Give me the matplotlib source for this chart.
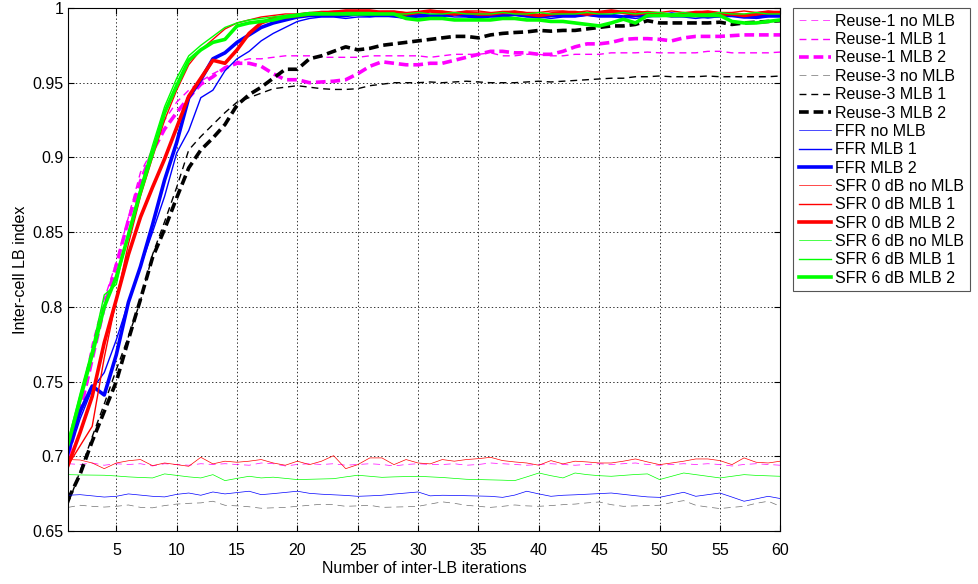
import matplotlib
matplotlib.use("Agg")
import matplotlib.pyplot as plt
import numpy as np

plt.rcParams['font.family'] = ['Liberation Sans', 'DejaVu Sans']
plt.rcParams['lines.scale_dashes'] = False

iters = np.arange(1, 61)

# ---- Reuse-1 ----
reuse1_nomlb = [0.695, 0.6945, 0.6955, 0.694, 0.695, 0.6945, 0.695, 0.6935, 0.695, 0.6945,
                0.694, 0.695, 0.6945, 0.695, 0.6945, 0.694, 0.6955, 0.695, 0.6935, 0.6945,
                0.695, 0.6945, 0.695, 0.694, 0.6945, 0.695, 0.6945, 0.6935, 0.6945, 0.695,
                0.6945, 0.6945, 0.695, 0.694, 0.6945, 0.6955, 0.695, 0.6945, 0.694, 0.6945,
                0.695, 0.6945, 0.694, 0.6945, 0.695, 0.6945, 0.695, 0.6955, 0.6945, 0.694,
                0.6945, 0.695, 0.6945, 0.695, 0.6945, 0.6935, 0.6945, 0.695, 0.6945, 0.694]
reuse1_mlb1 = [0.695, 0.735, 0.775, 0.805, 0.830, 0.860, 0.890, 0.905, 0.925, 0.937,
               0.945, 0.951, 0.956, 0.960, 0.964, 0.966, 0.966, 0.967, 0.968, 0.968,
               0.968, 0.967, 0.967, 0.967, 0.967, 0.968, 0.968, 0.968, 0.968, 0.968,
               0.967, 0.968, 0.969, 0.969, 0.969, 0.970, 0.968, 0.968, 0.969, 0.969,
               0.968, 0.968, 0.969, 0.969, 0.969, 0.970, 0.970, 0.970, 0.9705, 0.970,
               0.970, 0.970, 0.970, 0.971, 0.971, 0.970, 0.970, 0.970, 0.970, 0.9705]
reuse1_mlb2 = [0.700, 0.730, 0.765, 0.800, 0.828, 0.858, 0.884, 0.904, 0.919, 0.930,
               0.940, 0.949, 0.954, 0.960, 0.963, 0.963, 0.961, 0.956, 0.952, 0.952,
               0.950, 0.9505, 0.951, 0.952, 0.956, 0.961, 0.964, 0.963, 0.962, 0.962,
               0.963, 0.963, 0.965, 0.967, 0.969, 0.971, 0.971, 0.970, 0.970, 0.969,
               0.969, 0.971, 0.974, 0.976, 0.976, 0.977, 0.979, 0.9795, 0.9795, 0.979,
               0.978, 0.980, 0.981, 0.981, 0.981, 0.9815, 0.982, 0.982, 0.982, 0.982]

# ---- Reuse-3 ----
reuse3_nomlb = [0.6658, 0.6672, 0.6665, 0.6660, 0.6665, 0.6674, 0.6658, 0.6655, 0.6670, 0.6680,
                0.6685, 0.6688, 0.6699, 0.6672, 0.6668, 0.6662, 0.6652, 0.6655, 0.6658, 0.6665,
                0.6672, 0.6679, 0.6676, 0.6665, 0.6668, 0.6672, 0.6658, 0.6660, 0.6662, 0.6665,
                0.6680, 0.6695, 0.6685, 0.6672, 0.6665, 0.6658, 0.6665, 0.6674, 0.6668, 0.6665,
                0.6670, 0.6676, 0.6680, 0.6688, 0.6694, 0.6676, 0.6665, 0.6668, 0.6670, 0.6672,
                0.6690, 0.6703, 0.6672, 0.6660, 0.6650, 0.6658, 0.6665, 0.6685, 0.6699, 0.6665]
reuse3_mlb1 = [0.668, 0.690, 0.713, 0.735, 0.758, 0.780, 0.804, 0.835, 0.857, 0.880,
               0.905, 0.914, 0.922, 0.930, 0.937, 0.940, 0.943, 0.946, 0.947, 0.948,
               0.947, 0.946, 0.9455, 0.9455, 0.946, 0.948, 0.949, 0.950, 0.950, 0.950,
               0.9505, 0.950, 0.9505, 0.951, 0.9505, 0.950, 0.950, 0.950, 0.9505, 0.951,
               0.9505, 0.951, 0.9515, 0.952, 0.9525, 0.953, 0.953, 0.954, 0.954, 0.9545,
               0.954, 0.954, 0.954, 0.9545, 0.954, 0.954, 0.954, 0.954, 0.954, 0.9545]
reuse3_mlb2 = [0.671, 0.688, 0.710, 0.730, 0.750, 0.778, 0.805, 0.833, 0.852, 0.873,
               0.893, 0.905, 0.913, 0.922, 0.935, 0.942, 0.947, 0.953, 0.959, 0.959,
               0.966, 0.968, 0.971, 0.974, 0.972, 0.973, 0.975, 0.976, 0.977, 0.978,
               0.979, 0.980, 0.981, 0.981, 0.980, 0.982, 0.983, 0.9836, 0.984, 0.985,
               0.9845, 0.985, 0.985, 0.986, 0.987, 0.988, 0.988, 0.989, 0.9915, 0.990,
               0.990, 0.990, 0.990, 0.990, 0.9905, 0.989, 0.990, 0.9905, 0.991, 0.9915]

# ---- FFR ----
ffr_nomlb = [0.6739, 0.6743, 0.6735, 0.6727, 0.6732, 0.6748, 0.6740, 0.6732, 0.6728, 0.6745,
             0.6754, 0.6739, 0.6761, 0.6748, 0.6757, 0.6766, 0.6743, 0.6750, 0.6758, 0.6766,
             0.6752, 0.6746, 0.6742, 0.6738, 0.6732, 0.6735, 0.6739, 0.6747, 0.6754, 0.6761,
             0.6735, 0.6739, 0.6738, 0.6736, 0.6734, 0.6732, 0.6725, 0.6740, 0.6766, 0.6748,
             0.6732, 0.6739, 0.6742, 0.6746, 0.6750, 0.6754, 0.6745, 0.6736, 0.6728, 0.6725,
             0.6742, 0.6759, 0.6732, 0.6743, 0.6754, 0.6727, 0.6699, 0.6715, 0.6732, 0.6717]
ffr_mlb1 = [0.700, 0.725, 0.745, 0.756, 0.778, 0.803, 0.827, 0.850, 0.874, 0.903,
            0.918, 0.940, 0.945, 0.958, 0.966, 0.971, 0.978, 0.983, 0.987, 0.991,
            0.993, 0.994, 0.994, 0.993, 0.994, 0.994, 0.995, 0.994, 0.993, 0.994,
            0.994, 0.995, 0.994, 0.994, 0.993, 0.994, 0.994, 0.995, 0.994, 0.994,
            0.993, 0.994, 0.994, 0.995, 0.994, 0.994, 0.994, 0.993, 0.994, 0.995,
            0.994, 0.994, 0.993, 0.994, 0.994, 0.995, 0.994, 0.993, 0.994, 0.994]
ffr_mlb2 = [0.704, 0.730, 0.747, 0.741, 0.768, 0.803, 0.827, 0.855, 0.885, 0.910,
            0.940, 0.952, 0.966, 0.970, 0.977, 0.982, 0.987, 0.990, 0.992, 0.994,
            0.995, 0.995, 0.995, 0.995, 0.996, 0.995, 0.995, 0.995, 0.994, 0.995,
            0.995, 0.995, 0.996, 0.995, 0.994, 0.995, 0.995, 0.996, 0.995, 0.994,
            0.995, 0.995, 0.995, 0.996, 0.995, 0.995, 0.994, 0.995, 0.995, 0.995,
            0.996, 0.995, 0.995, 0.994, 0.995, 0.995, 0.994, 0.994, 0.995, 0.995]

# ---- SFR 0 dB ----
sfr0_nomlb = [0.6978, 0.6975, 0.6955, 0.6917, 0.6955, 0.6970, 0.6978, 0.6937, 0.6955, 0.6944,
              0.6933, 0.6993, 0.6949, 0.6967, 0.6960, 0.6967, 0.6978, 0.6955, 0.6940, 0.6967,
              0.6944, 0.6967, 0.7004, 0.6917, 0.6944, 0.6989, 0.6989, 0.6944, 0.6978, 0.6955,
              0.6949, 0.6978, 0.6967, 0.6978, 0.6984, 0.6993, 0.6971, 0.6962, 0.6955, 0.6940,
              0.6971, 0.6949, 0.6967, 0.6962, 0.6955, 0.6955, 0.6967, 0.6982, 0.6962, 0.6944,
              0.6955, 0.6967, 0.6982, 0.6982, 0.6971, 0.6944, 0.6989, 0.6960, 0.6955, 0.6967]
sfr0_mlb1 = [0.694, 0.707, 0.720, 0.766, 0.805, 0.842, 0.874, 0.900, 0.925, 0.945,
             0.962, 0.972, 0.979, 0.986, 0.990, 0.992, 0.994, 0.995, 0.996, 0.996,
             0.997, 0.997, 0.998, 0.998, 0.997, 0.997, 0.998, 0.998, 0.997, 0.997,
             0.998, 0.998, 0.997, 0.998, 0.998, 0.997, 0.997, 0.998, 0.997, 0.997,
             0.998, 0.998, 0.997, 0.998, 0.997, 0.997, 0.998, 0.998, 0.997, 0.997,
             0.998, 0.997, 0.997, 0.998, 0.997, 0.997, 0.998, 0.997, 0.998, 0.997]
sfr0_mlb2 = [0.694, 0.716, 0.740, 0.776, 0.805, 0.835, 0.860, 0.880, 0.899, 0.920,
             0.941, 0.953, 0.965, 0.963, 0.972, 0.983, 0.990, 0.993, 0.994, 0.995,
             0.996, 0.997, 0.997, 0.998, 0.998, 0.998, 0.997, 0.997, 0.996, 0.997,
             0.998, 0.997, 0.996, 0.997, 0.996, 0.996, 0.997, 0.997, 0.996, 0.995,
             0.996, 0.997, 0.997, 0.996, 0.997, 0.998, 0.997, 0.996, 0.997, 0.996,
             0.995, 0.996, 0.997, 0.997, 0.996, 0.996, 0.995, 0.996, 0.997, 0.997]

# ---- SFR 6 dB ----
sfr6_nomlb = [0.6877, 0.6875, 0.6874, 0.6873, 0.6868, 0.6862, 0.6858, 0.6855, 0.6882, 0.6872,
              0.6862, 0.6855, 0.6877, 0.6837, 0.6852, 0.6866, 0.6855, 0.6860, 0.6852, 0.6844,
              0.6846, 0.6848, 0.6850, 0.6862, 0.6873, 0.6866, 0.6859, 0.6862, 0.6864, 0.6866,
              0.6862, 0.6858, 0.6852, 0.6846, 0.6844, 0.6842, 0.6840, 0.6837, 0.6862, 0.6888,
              0.6870, 0.6855, 0.6888, 0.6877, 0.6870, 0.6866, 0.6872, 0.6878, 0.6882, 0.6844,
              0.6866, 0.6888, 0.6877, 0.6866, 0.6855, 0.6866, 0.6877, 0.6872, 0.6869, 0.6866]
sfr6_mlb1 = [0.710, 0.742, 0.772, 0.808, 0.815, 0.850, 0.880, 0.908, 0.934, 0.953,
             0.968, 0.975, 0.981, 0.987, 0.990, 0.992, 0.993, 0.994, 0.995, 0.996,
             0.997, 0.997, 0.996, 0.997, 0.997, 0.997, 0.996, 0.996, 0.996, 0.997,
             0.996, 0.996, 0.997, 0.996, 0.996, 0.996, 0.997, 0.996, 0.996, 0.997,
             0.996, 0.996, 0.996, 0.997, 0.996, 0.996, 0.997, 0.996, 0.997, 0.997,
             0.996, 0.997, 0.996, 0.996, 0.997, 0.996, 0.996, 0.997, 0.996, 0.996]
sfr6_mlb2 = [0.708, 0.738, 0.768, 0.800, 0.820, 0.848, 0.877, 0.903, 0.930, 0.948,
             0.965, 0.972, 0.977, 0.979, 0.988, 0.990, 0.991, 0.992, 0.994, 0.995,
             0.996, 0.996, 0.996, 0.996, 0.996, 0.996, 0.996, 0.996, 0.993, 0.992,
             0.993, 0.993, 0.992, 0.992, 0.992, 0.992, 0.993, 0.993, 0.992, 0.992,
             0.991, 0.991, 0.990, 0.989, 0.988, 0.990, 0.9925, 0.990, 0.995, 0.995,
             0.995, 0.995, 0.995, 0.995, 0.995, 0.991, 0.990, 0.990, 0.991, 0.992]

labels = ["Reuse-1 no MLB", "Reuse-1 MLB 1", "Reuse-1 MLB 2",
          "Reuse-3 no MLB", "Reuse-3 MLB 1", "Reuse-3 MLB 2",
          "FFR no MLB", "FFR MLB 1", "FFR MLB 2",
          "SFR 0 dB no MLB", "SFR 0 dB MLB 1", "SFR 0 dB MLB 2",
          "SFR 6 dB no MLB", "SFR 6 dB MLB 1", "SFR 6 dB MLB 2"]
series = [reuse1_nomlb, reuse1_mlb1, reuse1_mlb2,
          reuse3_nomlb, reuse3_mlb1, reuse3_mlb2,
          ffr_nomlb, ffr_mlb1, ffr_mlb2,
          sfr0_nomlb, sfr0_mlb1, sfr0_mlb2,
          sfr6_nomlb, sfr6_mlb1, sfr6_mlb2]
colors = ["#FF00FF"] * 3 + ["#707070", "#000000", "#000000"] + \
         ["#0000FF"] * 3 + ["#FF0000"] * 3 + ["#00FF00"] * 3
widths = [0.5, 1.0, 2.6] * 5
dashed = [True] * 6 + [False] * 9

fig = plt.figure(figsize=(9.79, 5.84), dpi=100)
ax = fig.add_axes([0.0695, 0.0908, 0.7275, 0.8955])

for y, lab, c, w, d in zip(series, labels, colors, widths, dashed):
    if d:
        dash = (5, 3.5) if w < 2 else (7, 3.5)
        ax.plot(iters, y, color=c, lw=w, dashes=dash, label=lab)
    else:
        ax.plot(iters, y, color=c, lw=w, label=lab)

ax.set_xlim(1, 60)
ax.set_ylim(0.65, 1.0)
ax.set_xticks(range(5, 61, 5))
ax.set_yticks([0.65, 0.7, 0.75, 0.8, 0.85, 0.9, 0.95, 1.0])
ax.set_yticklabels(["0.65", "0.7", "0.75", "0.8", "0.85", "0.9", "0.95", "1"])
ax.tick_params(direction="in", top=True, right=True, labelsize=11.5, length=4)
ax.tick_params(axis="x", pad=8.5)
ax.grid(True, color="0.2", linestyle=":", linewidth=0.7)
ax.set_xlabel("Number of inter-LB iterations", fontsize=11.5, labelpad=2.5)
ax.set_ylabel("Inter-cell LB index", fontsize=11.5, labelpad=3)

leg = ax.legend(loc="upper left", bbox_to_anchor=(0.81, 0.986), bbox_transform=fig.transFigure,
                fontsize=11.5, handlelength=2.0, handletextpad=0.3, labelspacing=0.21,
                borderaxespad=0, borderpad=0.35, fancybox=False, framealpha=1)
leg.get_frame().set_edgecolor("#555555")
leg.get_frame().set_linewidth(0.8)

plt.savefig("out.png", dpi=100)
